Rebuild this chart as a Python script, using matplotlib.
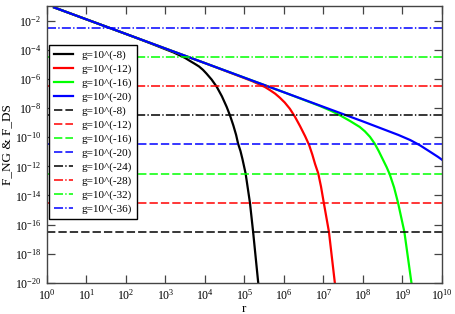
import numpy as np
import matplotlib
matplotlib.use("Agg")
import matplotlib.pyplot as plt

# exponents (log10)
black_lr = [0.18, 2.0, 2.6, 3.0, 3.2, 3.37, 3.5, 3.62, 3.75, 3.85, 3.95, 4.04, 4.17, 4.30, 4.43, 4.55, 4.64,
            4.72, 4.79, 4.84, 4.90, 4.95, 5.03, 5.14, 5.22, 5.35]
black_lf = [-1.1, -2.92, -3.54, -3.97, -4.18, -4.40, -4.57, -4.77, -4.98, -5.15, -5.38, -5.64, -6.05, -6.55,
            -7.2, -7.92, -8.55, -9.2, -9.85, -10.45, -10.95, -11.5, -12.49, -14.5, -16.49, -20.0]

red_lr = [0.18, 2.0, 4.0, 5.0, 5.2, 5.39, 5.52, 5.65, 5.78, 5.9, 6.02, 6.15, 6.28, 6.41, 6.54, 6.64, 6.72,
          6.79, 6.87, 6.94, 7.01, 7.14, 7.29]
red_lf = [-1.1, -2.92, -4.92, -5.95, -6.16, -6.4, -6.56, -6.78, -7.02, -7.3, -7.62, -8.05, -8.6, -9.25,
          -9.95, -10.55, -11.2, -11.85, -12.49, -13.4, -14.5, -16.49, -20.0]

green_lr = [0.18, 2.0, 4.0, 6.0, 6.9, 7.2, 7.42, 7.68, 7.92, 8.05, 8.18, 8.30, 8.40, 8.50, 8.60, 8.68,
            8.79, 8.89, 9.05, 9.23]
green_lf = [-1.1, -2.92, -4.92, -6.92, -7.85, -8.2, -8.5, -8.9, -9.3, -9.6, -9.98, -10.45, -10.95,
            -11.5, -12.05, -12.55, -13.45, -14.5, -16.49, -20.0]

blue_lr = [0.18, 2.0, 4.0, 6.0, 8.0, 8.9, 9.2, 9.44, 9.7, 9.9, 10.03]
blue_lf = [-1.1, -2.92, -4.92, -6.92, -8.92, -9.85, -10.2, -10.55, -11.0, -11.35, -11.6]

curve_labels = ["g=10^(-8)", "g=10^(-12)", "g=10^(-16)", "g=10^(-20)"]
colors = ["#000000", "#ff0000", "#00ff00", "#0000ff"]

# F_DS levels (log10)
dashed_labels = ["g=10^(-8)", "g=10^(-12)", "g=10^(-16)", "g=10^(-20)"]
dashed_lf = [-16.5, -14.5, -12.5, -10.5]
dashdot_labels = ["g=10^(-24)", "g=10^(-28)", "g=10^(-32)", "g=10^(-36)"]
dashdot_lf = [-8.5, -6.5, -4.5, -2.5]

plt.rcParams['font.family'] = ['Liberation Serif', 'DejaVu Serif']
plt.rcParams['mathtext.fontset'] = 'custom'
plt.rcParams['mathtext.rm'] = 'Liberation Serif'
plt.rcParams['mathtext.it'] = 'Liberation Serif:italic'
plt.rcParams['lines.scale_dashes'] = False

fig = plt.figure(figsize=(4.56, 3.14), dpi=100)
ax = fig.add_axes([0.103, 0.099, 0.866, 0.882])

curves = [(black_lr, black_lf), (red_lr, red_lf), (green_lr, green_lf), (blue_lr, blue_lf)]
for (lr, lf), c, lab in zip(curves, colors, curve_labels):
    ax.plot(10.0 ** np.array(lr), 10.0 ** np.array(lf), color=c, lw=1.6, label=lab)

for v, c, lab in zip(dashed_lf, colors, dashed_labels):
    ax.axhline(10.0 ** v, color=c, lw=1.1, dashes=(6, 2.2), label=lab)
for v, c, lab in zip(dashdot_lf, colors, dashdot_labels):
    ax.axhline(10.0 ** v, color=c, lw=1.1, dashes=(6.5, 1.6, 1.0, 1.6), label=lab)

ax.set_xscale('log')
ax.set_yscale('log')
ax.set_xlim(1, 1e10)
ax.set_ylim(1e-20, 1e-1)
ax.set_xticks([10.0 ** k for k in range(0, 11)])
ax.set_yticks([10.0 ** k for k in range(-20, -1, 2)])
ax.minorticks_off()
ax.tick_params(direction='in', length=5.5, width=0.9, color='#444444',
               top=True, right=True, labelsize=8.5, pad=4)
for s in ax.spines.values():
    s.set_color('#444444')
    s.set_linewidth(1.0)

ax.set_xlabel("r", fontsize=9.5, labelpad=0)
ax.set_ylabel("F_NG & F_DS", fontsize=9.5, labelpad=1)

leg = ax.legend(loc='upper left', bbox_to_anchor=(0.005, 0.86), borderaxespad=0,
                fontsize=8, handlelength=1.75, handletextpad=0.7,
                labelspacing=0.36, borderpad=0.45, fancybox=False,
                framealpha=1, edgecolor='black')
leg.get_frame().set_linewidth(1.0)

fig.savefig("out.png", dpi=100)
